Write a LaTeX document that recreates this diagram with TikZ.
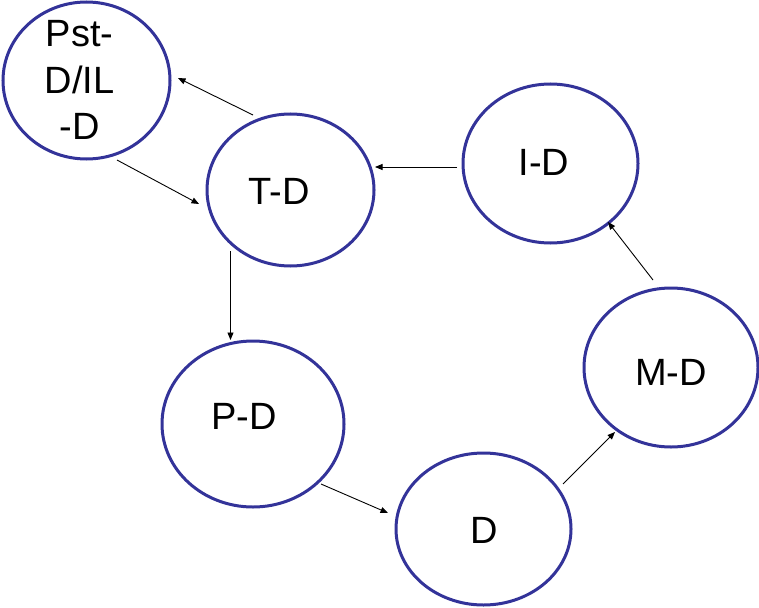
\documentclass[tikz,border=0pt]{standalone}
\usepackage{fontspec}
\setmainfont{Liberation Sans}
\usetikzlibrary{shapes.geometric,arrows.meta}
\definecolor{ringblue}{RGB}{51,51,153}
\tikzset{
  ring/.style={ellipse, draw=ringblue, line width=3pt, inner sep=0pt, outer sep=0pt},
  lbl/.style={inner sep=0pt, font=\fontsize{38}{46.5}\selectfont, text=black},
  arr/.style={draw=black, line width=0.9pt, -{Triangle[length=7.5pt,width=6pt]}}
}
\begin{document}
\begin{tikzpicture}[x=1pt,y=-1pt]
\useasboundingbox (0,0) rectangle (759,607);
\fill[white] (0,0) rectangle (759,607);
% ellipses
\node[ring, minimum width=167pt, minimum height=157pt] (pst) at (86.5,80.5) {};
\node[ring, minimum width=167pt, minimum height=152pt] (td) at (290.5,190) {};
\node[ring, minimum width=175pt, minimum height=159pt] (id) at (550.5,163.5) {};
\node[ring, minimum width=174pt, minimum height=159pt] (md) at (671,367.5) {};
\node[ring, minimum width=182pt, minimum height=166pt] (pd) at (253,424) {};
\node[ring, minimum width=175pt, minimum height=152pt] (d) at (483.5,529) {};
% labels
\node[lbl, align=center, anchor=center] (pstl) at (79.5,80) {Pst-\\D/IL\\-D};
\node[lbl, anchor=base] (tdl) at (279,204) {T-D};
\node[lbl, anchor=base] (idl) at (544,175) {I-D};
\node[lbl, anchor=base] (mdl) at (671,385) {M-D};
\node[lbl, anchor=base] (pdl) at (244,429) {P-D};
\node[lbl, anchor=base] (dl) at (484,543) {D};
% connectors
\draw[arr] ([shift={(-37.5,-75)}]td.center) -- ([shift={(91.5,-2.5)}]pst.center);
\draw[arr] ([shift={(30.5,79.5)}]pst.center) -- ([shift={(-91.5,14)}]td.center);
\draw[arr] ([shift={(-93.5,3.5)}]id.center) -- ([shift={(84.5,-23)}]td.center);
\draw[arr] ([shift={(-60,61)}]td.center) -- ([shift={(-22.5,-84)}]pd.center);
\draw[arr] ([shift={(68,60)}]pd.center) -- ([shift={(-95.5,-16)}]d.center);
\draw[arr] ([shift={(79.5,-45)}]d.center) -- ([shift={(-56,64.5)}]md.center);
\draw[arr] ([shift={(-18,-87.5)}]md.center) -- ([shift={(57.5,58.5)}]id.center);
\end{tikzpicture}
\end{document}
